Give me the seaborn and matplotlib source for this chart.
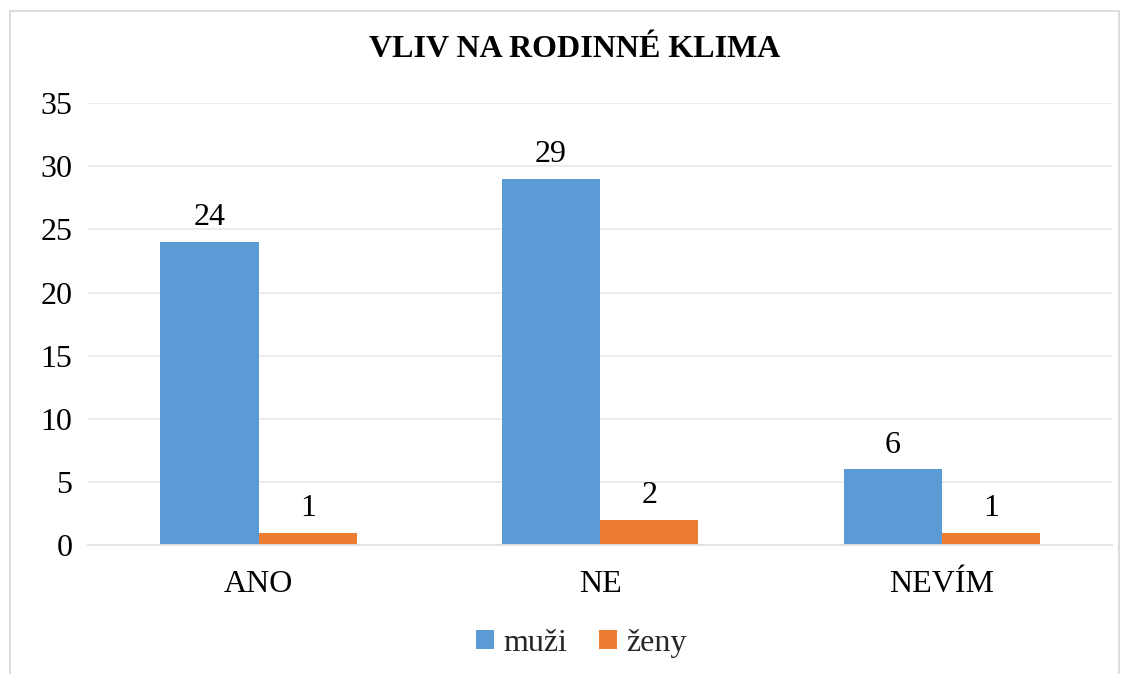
import matplotlib
matplotlib.use("Agg")
import matplotlib.pyplot as plt
import seaborn as sns
import pandas as pd
from matplotlib.patches import Rectangle

# data
categories = ["ANO", "NE", "NEVÍM"]
muzi = [24, 29, 6]
zeny = [1, 2, 1]
series_names = ["muži", "ženy"]

df = pd.DataFrame({
    "kategorie": categories * 2,
    "pohlavi": [series_names[0]] * 3 + [series_names[1]] * 3,
    "pocet": muzi + zeny,
})

sns.set_theme(style="white")
plt.rcParams["font.family"] = ["Liberation Serif", "DejaVu Serif"]

fig = plt.figure(figsize=(11.26, 6.74), dpi=100)
ax = fig.add_axes([0.078, 0.191, 0.91, 0.656])

sns.barplot(data=df, x="kategorie", y="pocet", hue="pohlavi",
            palette=["#5B9BD5", "#ED7D31"], width=0.575, saturation=1,
            linewidth=0, ax=ax, legend=True)

# value labels
for cont in ax.containers:
    ax.bar_label(cont, fontsize=23, padding=7, color="#000000")

ax.set_xlim(-0.5, 2.5)
ax.set_ylim(0, 35)
ax.set_yticks(range(0, 36, 5))
ax.yaxis.grid(True, color="#eaeaea", linewidth=1.3)
ax.set_axisbelow(True)
for s in ["top", "right", "left"]:
    ax.spines[s].set_visible(False)
ax.spines["bottom"].set_color("#e3e3e3")
ax.spines["bottom"].set_linewidth(1.3)
ax.tick_params(axis="both", length=0, labelsize=23, labelcolor="#000000")
ax.tick_params(axis="y", pad=11)
ax.tick_params(axis="x", pad=18)
ax.set_xlabel("")
ax.set_ylabel("")

fig.text(0.51, 0.926, "VLIV NA RODINNÉ KLIMA", ha="center", va="center",
         fontsize=23, fontweight="bold", color="#000000")

ax.legend(loc="center", bbox_to_anchor=(0.482, -0.222), ncol=2, frameon=False,
          fontsize=23, handlelength=0.55, handleheight=0.55,
          handletextpad=0.3, columnspacing=1.0)

# outer chart border
fig.patches.append(Rectangle((0.009, -0.01), 0.985, 0.993, transform=fig.transFigure,
                             fill=False, edgecolor="#d9d9d9", linewidth=1.3))

fig.savefig("out.png", dpi=100)
